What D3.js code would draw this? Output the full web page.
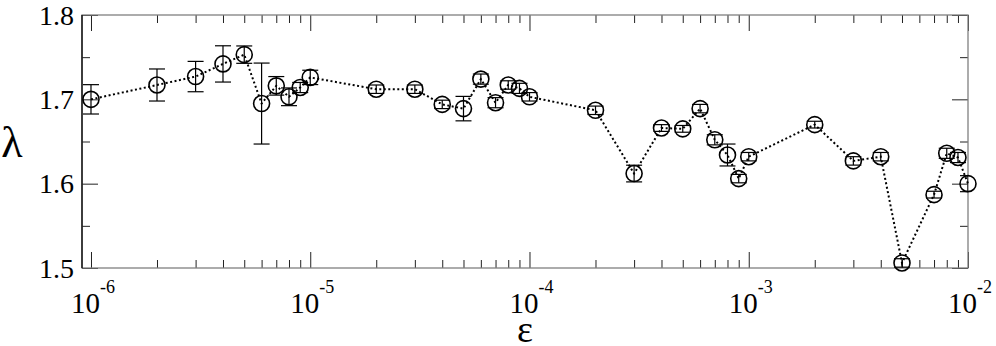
<!DOCTYPE html>
<html>
<head>
<meta charset="utf-8">
<script src="https://cdn.jsdelivr.net/npm/d3@7"></script>
<style>
  body { margin: 0; background: #fff; }
</style>
</head>
<body>
<div id="chart"></div>
<script>
// epsilon values (x) and measured lambda with error
var eps = [1e-6, 2e-6, 3e-6, 4e-6, 5e-6, 6e-6, 7e-6, 8e-6, 9e-6,
           1e-5, 2e-5, 3e-5, 4e-5, 5e-5, 6e-5, 7e-5, 8e-5, 9e-5,
           1e-4, 2e-4, 3e-4, 4e-4, 5e-4, 6e-4, 7e-4, 8e-4, 9e-4,
           1e-3, 2e-3, 3e-3, 4e-3, 5e-3, 7e-3, 8e-3, 9e-3, 1e-2];
var lambda = [1.700, 1.717, 1.727, 1.742, 1.753, 1.695, 1.716, 1.703, 1.714,
              1.726, 1.712, 1.712, 1.694, 1.689, 1.724, 1.696, 1.717, 1.713,
              1.703, 1.687, 1.612, 1.666, 1.665, 1.689, 1.652, 1.634, 1.606,
              1.632, 1.670, 1.627, 1.632, 1.506, 1.587, 1.636, 1.631, 1.600];
var err = [0.0174, 0.019, 0.018, 0.0215, 0.0103, 0.048, 0.011, 0.0105, 0.006,
           0.0085, 0.005, 0.005, 0.005, 0.0145, 0.006, 0.006, 0.005, 0.006,
           0.005, 0.005, 0.0099, 0.004, 0.004, 0.005, 0.006, 0.013, 0.005,
           0.005, 0.004, 0.005, 0.005, 0.005, 0.004, 0.006, 0.006, 0.0095];
var xTicks = [1e-6, 1e-5, 1e-4, 1e-3, 1e-2];
var xTickExp = ["-6", "-5", "-4", "-3", "-2"];
var yTicks = [1.5, 1.6, 1.7, 1.8];
var yMinor = [1.55, 1.65, 1.75];

var width = 996, height = 346;
var margin = {top: 15, right: 28, bottom: 78, left: 82};
var serif = "Liberation Serif, Times New Roman, Times, Nimbus Roman, FreeSerif, DejaVu Serif, Noto Serif, serif";

var svg = d3.select("#chart").append("svg")
    .attr("width", width)
    .attr("height", height)
    .style("font-family", serif);

var x = d3.scaleLog()
    .domain([Math.pow(10, -6.041), 1e-2])
    .range([margin.left, width - margin.right]);
var y = d3.scaleLinear()
    .domain([1.5, 1.8])
    .range([height - margin.bottom, margin.top]);

var x0 = margin.left, x1 = width - margin.right,
    y0 = margin.top, y1 = height - margin.bottom;

// minor x ticks: 2..9 inside each decade
var xMinor = [];
for (var d = -6; d < -2; d++) {
  for (var m = 2; m <= 9; m++) xMinor.push(m * Math.pow(10, d));
}

var g = svg.append("g");

// Ticks, all pointing inward, on all four sides
g.append("g")
    .attr("transform", "translate(0," + y1 + ")")
    .call(d3.axisTop(x).tickValues(xTicks).tickSizeInner(16).tickSizeOuter(0).tickFormat(""));
g.append("g")
    .attr("transform", "translate(0," + y1 + ")")
    .call(d3.axisTop(x).tickValues(xMinor).tickSizeInner(8).tickSizeOuter(0).tickFormat(""));
g.append("g")
    .attr("transform", "translate(0," + y0 + ")")
    .call(d3.axisBottom(x).tickValues(xTicks).tickSizeInner(16).tickSizeOuter(0).tickFormat(""));
g.append("g")
    .attr("transform", "translate(0," + y0 + ")")
    .call(d3.axisBottom(x).tickValues(xMinor).tickSizeInner(8).tickSizeOuter(0).tickFormat(""));
g.append("g")
    .attr("transform", "translate(" + x0 + ",0)")
    .call(d3.axisRight(y).tickValues(yTicks).tickSizeInner(16).tickSizeOuter(0).tickFormat(""));
g.append("g")
    .attr("transform", "translate(" + x0 + ",0)")
    .call(d3.axisRight(y).tickValues(yMinor).tickSizeInner(8).tickSizeOuter(0).tickFormat(""));
g.append("g")
    .attr("transform", "translate(" + x1 + ",0)")
    .call(d3.axisLeft(y).tickValues(yTicks).tickSizeInner(16).tickSizeOuter(0).tickFormat(""));
g.append("g")
    .attr("transform", "translate(" + x1 + ",0)")
    .call(d3.axisLeft(y).tickValues(yMinor).tickSizeInner(8).tickSizeOuter(0).tickFormat(""));

g.selectAll(".domain").remove();
g.selectAll(".tick line").attr("stroke", "#222").attr("stroke-width", 1);

// Frame
svg.append("rect")
    .attr("x", x0).attr("y", y0)
    .attr("width", x1 - x0).attr("height", y1 - y0)
    .attr("fill", "none").attr("stroke", "#808080").attr("stroke-width", 1.3);
svg.append("line")
    .attr("x1", x0).attr("x2", x0).attr("y1", y0).attr("y2", y1)
    .attr("stroke", "#000").attr("stroke-width", 1.3);

// Tick labels
svg.selectAll(".ylab").data(yTicks).enter().append("text")
    .attr("class", "ylab")
    .attr("x", x0 - 8)
    .attr("y", function(d) { return y(d); })
    .attr("dy", "0.34em")
    .attr("text-anchor", "end")
    .style("font-family", serif)
    .attr("font-size", 28)
    .text(function(d) { return d.toFixed(1); });

var xl = svg.selectAll(".xlab").data(xTicks).enter().append("text")
    .attr("class", "xlab")
    .attr("x", function(d) { return x(d) + 2; })
    .attr("y", 313)
    .attr("text-anchor", "middle")
    .style("font-family", serif)
    .attr("font-size", 29);
xl.append("tspan").text("10");
xl.append("tspan")
    .attr("dy", -20)
    .attr("font-size", 18)
    .text(function(d, i) { return xTickExp[i]; });

// Axis titles
svg.append("text")
    .attr("x", 525).attr("y", 342)
    .attr("text-anchor", "middle")
    .style("font-family", serif)
    .attr("font-size", 38)
    .text("ε");
svg.append("text")
    .attr("x", 12).attr("y", 157)
    .attr("text-anchor", "middle")
    .style("font-family", serif)
    .attr("font-size", 44)
    .text("λ");

// Data
var pts = eps.map(function(e, i) { return {e: e, v: lambda[i], s: err[i]}; });

svg.append("clipPath").attr("id", "clip")
  .append("rect")
    .attr("x", x0).attr("y", y0)
    .attr("width", x1 - x0).attr("height", y1 - y0);

var plot = svg.append("g");

plot.append("path")
    .datum(pts)
    .attr("fill", "none")
    .attr("stroke", "#000")
    .attr("stroke-width", 2)
    .attr("stroke-dasharray", "2,2.5")
    .attr("d", d3.line()
      .x(function(d) { return x(d.e); })
      .y(function(d) { return y(d.v); }));

var eb = plot.append("g")
    .attr("clip-path", "url(#clip)")
    .attr("stroke", "#000")
    .attr("stroke-width", 1.2)
  .selectAll("g").data(pts).enter().append("g");
eb.append("line")
    .attr("x1", function(d) { return x(d.e); })
    .attr("x2", function(d) { return x(d.e); })
    .attr("y1", function(d) { return y(d.v + d.s); })
    .attr("y2", function(d) { return y(d.v - d.s); });
eb.append("line")
    .attr("x1", function(d) { return x(d.e) - 8; })
    .attr("x2", function(d) { return x(d.e) + 8; })
    .attr("y1", function(d) { return y(d.v + d.s); })
    .attr("y2", function(d) { return y(d.v + d.s); });
eb.append("line")
    .attr("x1", function(d) { return x(d.e) - 8; })
    .attr("x2", function(d) { return x(d.e) + 8; })
    .attr("y1", function(d) { return y(d.v - d.s); })
    .attr("y2", function(d) { return y(d.v - d.s); });

plot.selectAll("circle").data(pts).enter().append("circle")
    .attr("cx", function(d) { return x(d.e); })
    .attr("cy", function(d) { return y(d.v); })
    .attr("r", 8)
    .attr("fill", "none")
    .attr("stroke", "#000")
    .attr("stroke-width", 1.6);
</script>
</body>
</html>
